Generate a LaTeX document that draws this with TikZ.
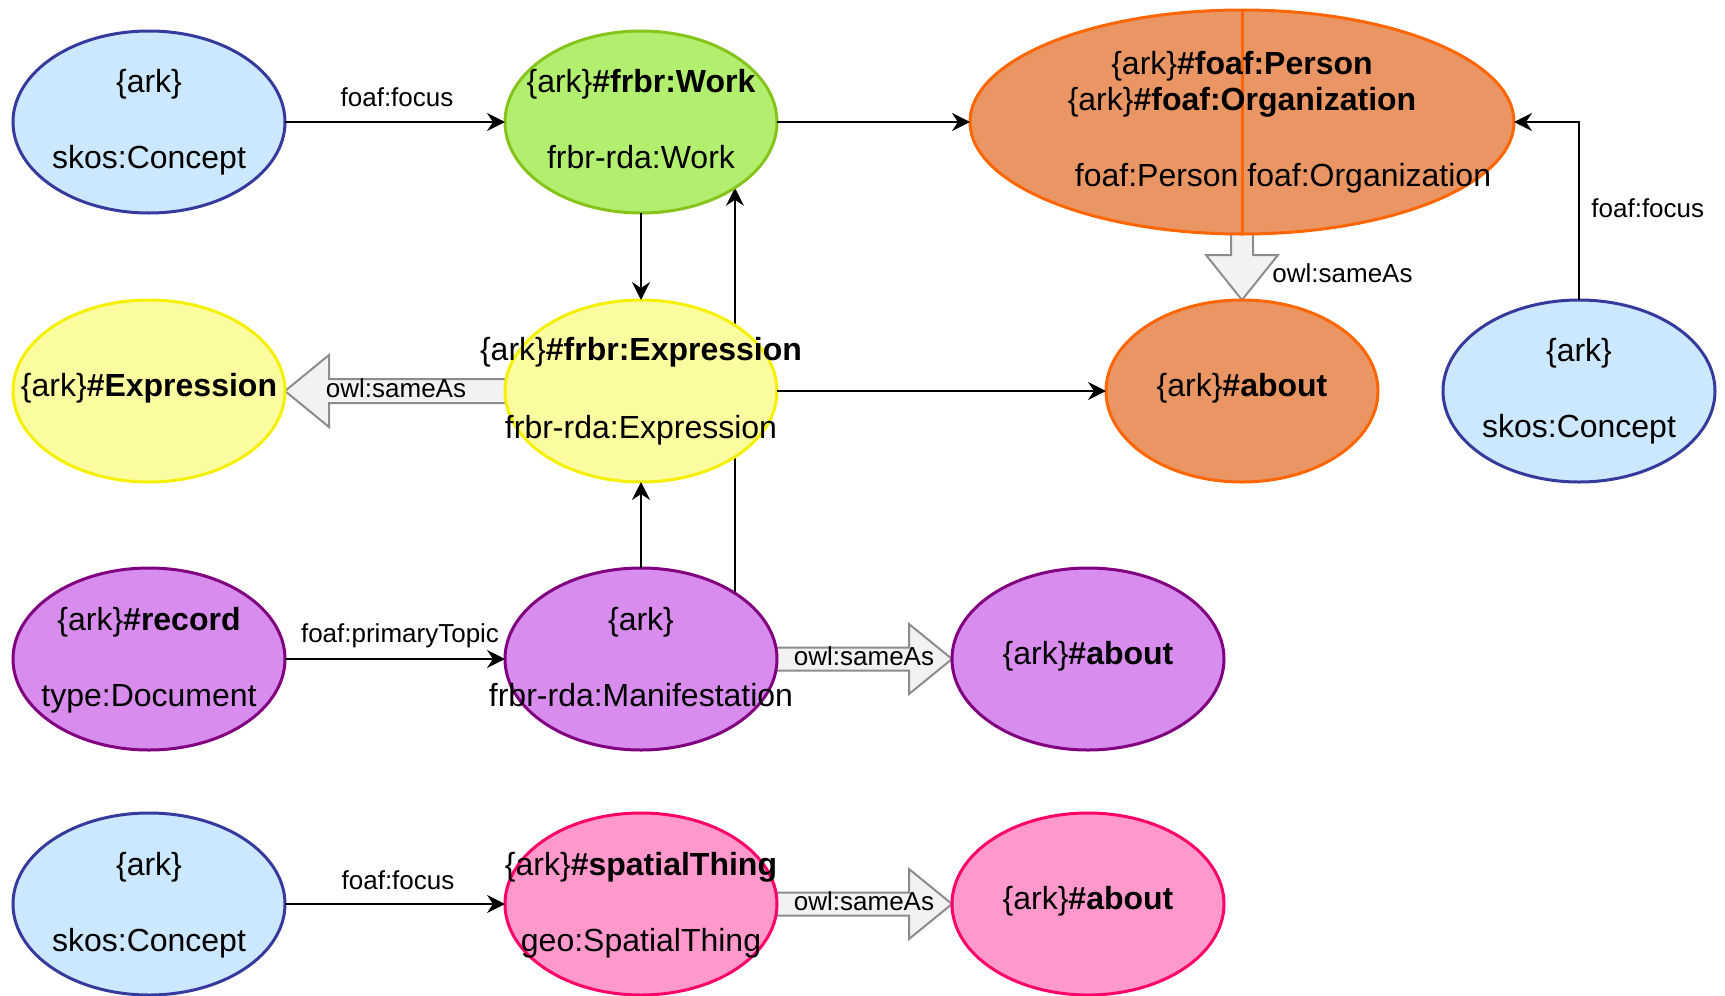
\documentclass[tikz,border=0pt]{standalone}
\usepackage{fontspec}
\setmainfont{Liberation Sans}
\usetikzlibrary{arrows.meta,backgrounds,calc,shapes.geometric}
\definecolor{bluefill}{HTML}{CCE8FF}
\definecolor{bluedraw}{HTML}{363A9C}
\definecolor{greenfill}{HTML}{B3EF6E}
\definecolor{greendraw}{HTML}{86C41B}
\definecolor{yellowfill}{HTML}{FBFB9F}
\definecolor{yellowdraw}{HTML}{F5F000}
\definecolor{orangefill}{HTML}{E99664}
\definecolor{orangedraw}{HTML}{FF6600}
\definecolor{purplefill}{HTML}{D88CEE}
\definecolor{purpledraw}{HTML}{800080}
\definecolor{pinkfill}{HTML}{FF99CC}
\definecolor{pinkdraw}{HTML}{FF0066}
\definecolor{hollowfill}{HTML}{F2F2F2}
\definecolor{hollowdraw}{HTML}{8C8C8C}
\begin{document}
\begin{tikzpicture}[x=0.5pt,y=-0.5pt,
  ell/.style={ellipse,minimum width=136pt,minimum height=91pt,inner sep=0pt,outer sep=0pt,line width=1.5pt},
  bluenode/.style={ell,fill=bluefill,draw=bluedraw},
  greennode/.style={ell,fill=greenfill,draw=greendraw},
  yellownode/.style={ell,fill=yellowfill,draw=yellowdraw},
  orangenode/.style={ell,fill=orangefill,draw=orangedraw},
  purplenode/.style={ell,fill=purplefill,draw=purpledraw},
  pinknode/.style={ell,fill=pinkfill,draw=pinkdraw},
  txt/.style={anchor=base,inner sep=0pt,font=\fontsize{16pt}{19pt}\selectfont},
  lbl/.style={anchor=base,inner sep=0pt,font=\fontsize{13pt}{15pt}\selectfont},
  conn/.style={draw=black,line width=1pt,-{Stealth[length=9pt,width=9pt,inset=3pt]}},
  hollow/.style={fill=hollowfill,draw=hollowdraw,line width=1pt,line join=miter}
]
\useasboundingbox (0,0) rectangle (1725,996);

% nodes
\node[bluenode] (c1) at (149,122) {};
\node[greennode] (work) at (641,122) {};
\node[orangenode,minimum width=272pt,minimum height=112pt] (agent) at (1242,122) {};
\node[yellownode] (expr2) at (149,391) {};
\node[yellownode] (expr) at (641,391) {};
\node[orangenode] (about1) at (1242,391) {};
\node[bluenode] (c2) at (1579,391) {};
\node[purplenode] (rec) at (149,659) {};
\node[purplenode] (manif) at (641,659) {};
\node[purplenode] (about2) at (1088,659) {};
\node[bluenode] (c3) at (149,904) {};
\node[pinknode] (spatial) at (641,904) {};
\node[pinknode] (about3) at (1088,904) {};

\draw[draw=orangedraw,line width=1.5pt] (agent.north) -- (agent.south);

% background connectors
\begin{scope}[on background layer]
  \draw[conn] (manif.35) -- (work.-35);
  % expr -> expr2 (left)
  \draw[hollow] ($(expr.center)+(0,-12)$) -- ($(expr2.east)+(44,-12)$) -- ($(expr2.east)+(44,-36)$) -- (expr2.east)
     -- ($(expr2.east)+(44,36)$) -- ($(expr2.east)+(44,12)$) -- ($(expr.center)+(0,12)$) -- cycle;
  % agent -> about1 (down)
  \draw[hollow] ($(agent.center)+(-11,0)$) -- ($(about1.north)+(-11,-45)$) -- ($(about1.north)+(-36,-45)$) -- (about1.north)
     -- ($(about1.north)+(36,-45)$) -- ($(about1.north)+(11,-45)$) -- ($(agent.center)+(11,0)$) -- cycle;
  % manif -> about2 (right)
  \draw[hollow] ($(manif.center)+(0,-11.5)$) -- ($(about2.west)+(-43,-11.5)$) -- ($(about2.west)+(-43,-35)$) -- (about2.west)
     -- ($(about2.west)+(-43,35)$) -- ($(about2.west)+(-43,11.5)$) -- ($(manif.center)+(0,11.5)$) -- cycle;
  % spatial -> about3 (right)
  \draw[hollow] ($(spatial.center)+(0,-11.5)$) -- ($(about3.west)+(-43,-11.5)$) -- ($(about3.west)+(-43,-35)$) -- (about3.west)
     -- ($(about3.west)+(-43,35)$) -- ($(about3.west)+(-43,11.5)$) -- ($(spatial.center)+(0,11.5)$) -- cycle;
\end{scope}

% connectors
\draw[conn] (c1.east) -- (work.west);
\draw[conn] (work.east) -- (agent.west);
\draw[conn] (work.south) -- (expr.north);
\draw[conn] (manif.north) -- (expr.south);
\draw[conn] (expr.east) -- (about1.west);
\draw[conn] (c2.north) |- (agent.east);
\draw[conn] (rec.east) -- (manif.west);
\draw[conn] (c3.east) -- (spatial.west);

% node texts
\node[txt] (t1a) at ($(c1)+(0,-30)$) {\{ark\}};
\node[txt] (t1b) at ($(c1)+(0,46)$) {skos:Concept};
\node[txt] (t2a) at ($(work)+(0,-30)$) {\{ark\}\textbf{\#frbr:Work}};
\node[txt] (t2b) at ($(work)+(0,46)$) {frbr-rda:Work};
\node[txt] (t3a) at (1242,74) {\{ark\}\textbf{\#foaf:Person}};
\node[txt] (t3b) at (1242,110) {\{ark\}\textbf{\#foaf:Organization}};
\node[txt] (t3c) at (1283,186) {foaf:Person foaf:Organization};
\node[txt] (t4) at ($(expr2)+(0,5)$) {\{ark\}\textbf{\#Expression}};
\node[txt] (t5a) at ($(expr)+(0,-31)$) {\{ark\}\textbf{\#frbr:Expression}};
\node[txt] (t5b) at ($(expr)+(0,47)$) {frbr-rda:Expression};
\node[txt] (t6) at ($(about1)+(0,5)$) {\{ark\}\textbf{\#about}};
\node[txt] (t7a) at ($(c2)+(0,-30)$) {\{ark\}};
\node[txt] (t7b) at ($(c2)+(0,46)$) {skos:Concept};
\node[txt] (t8a) at ($(rec)+(0,-29)$) {\{ark\}\textbf{\#record}};
\node[txt] (t8b) at ($(rec)+(0,47)$) {type:Document};
\node[txt] (t9a) at ($(manif)+(0,-29)$) {\{ark\}};
\node[txt] (t9b) at ($(manif)+(0,47)$) {frbr-rda:Manifestation};
\node[txt] (t10) at ($(about2)+(0,5)$) {\{ark\}\textbf{\#about}};
\node[txt] (t11a) at ($(c3)+(0,-29)$) {\{ark\}};
\node[txt] (t11b) at ($(c3)+(0,47)$) {skos:Concept};
\node[txt] (t12a) at ($(spatial)+(0,-29)$) {\{ark\}\textbf{\#spatialThing}};
\node[txt] (t12b) at ($(spatial)+(0,47)$) {geo:SpatialThing};
\node[txt] (t13) at ($(about3)+(0,5)$) {\{ark\}\textbf{\#about}};

% edge labels
\node[lbl] (l1) at (397,106) {foaf:focus};
\node[lbl] (l2) at (400,642) {foaf:primaryTopic};
\node[lbl] (l3) at (398,889) {foaf:focus};
\node[lbl,anchor=base west] (l4) at (1591,217) {foaf:focus};
\node[lbl,anchor=base west] (l5) at (1272,282) {owl:sameAs};
\node[lbl] (l6) at (396,397) {owl:sameAs};
\node[lbl] (l7) at (864,665) {owl:sameAs};
\node[lbl] (l8) at (864,910) {owl:sameAs};
\end{tikzpicture}
\end{document}
